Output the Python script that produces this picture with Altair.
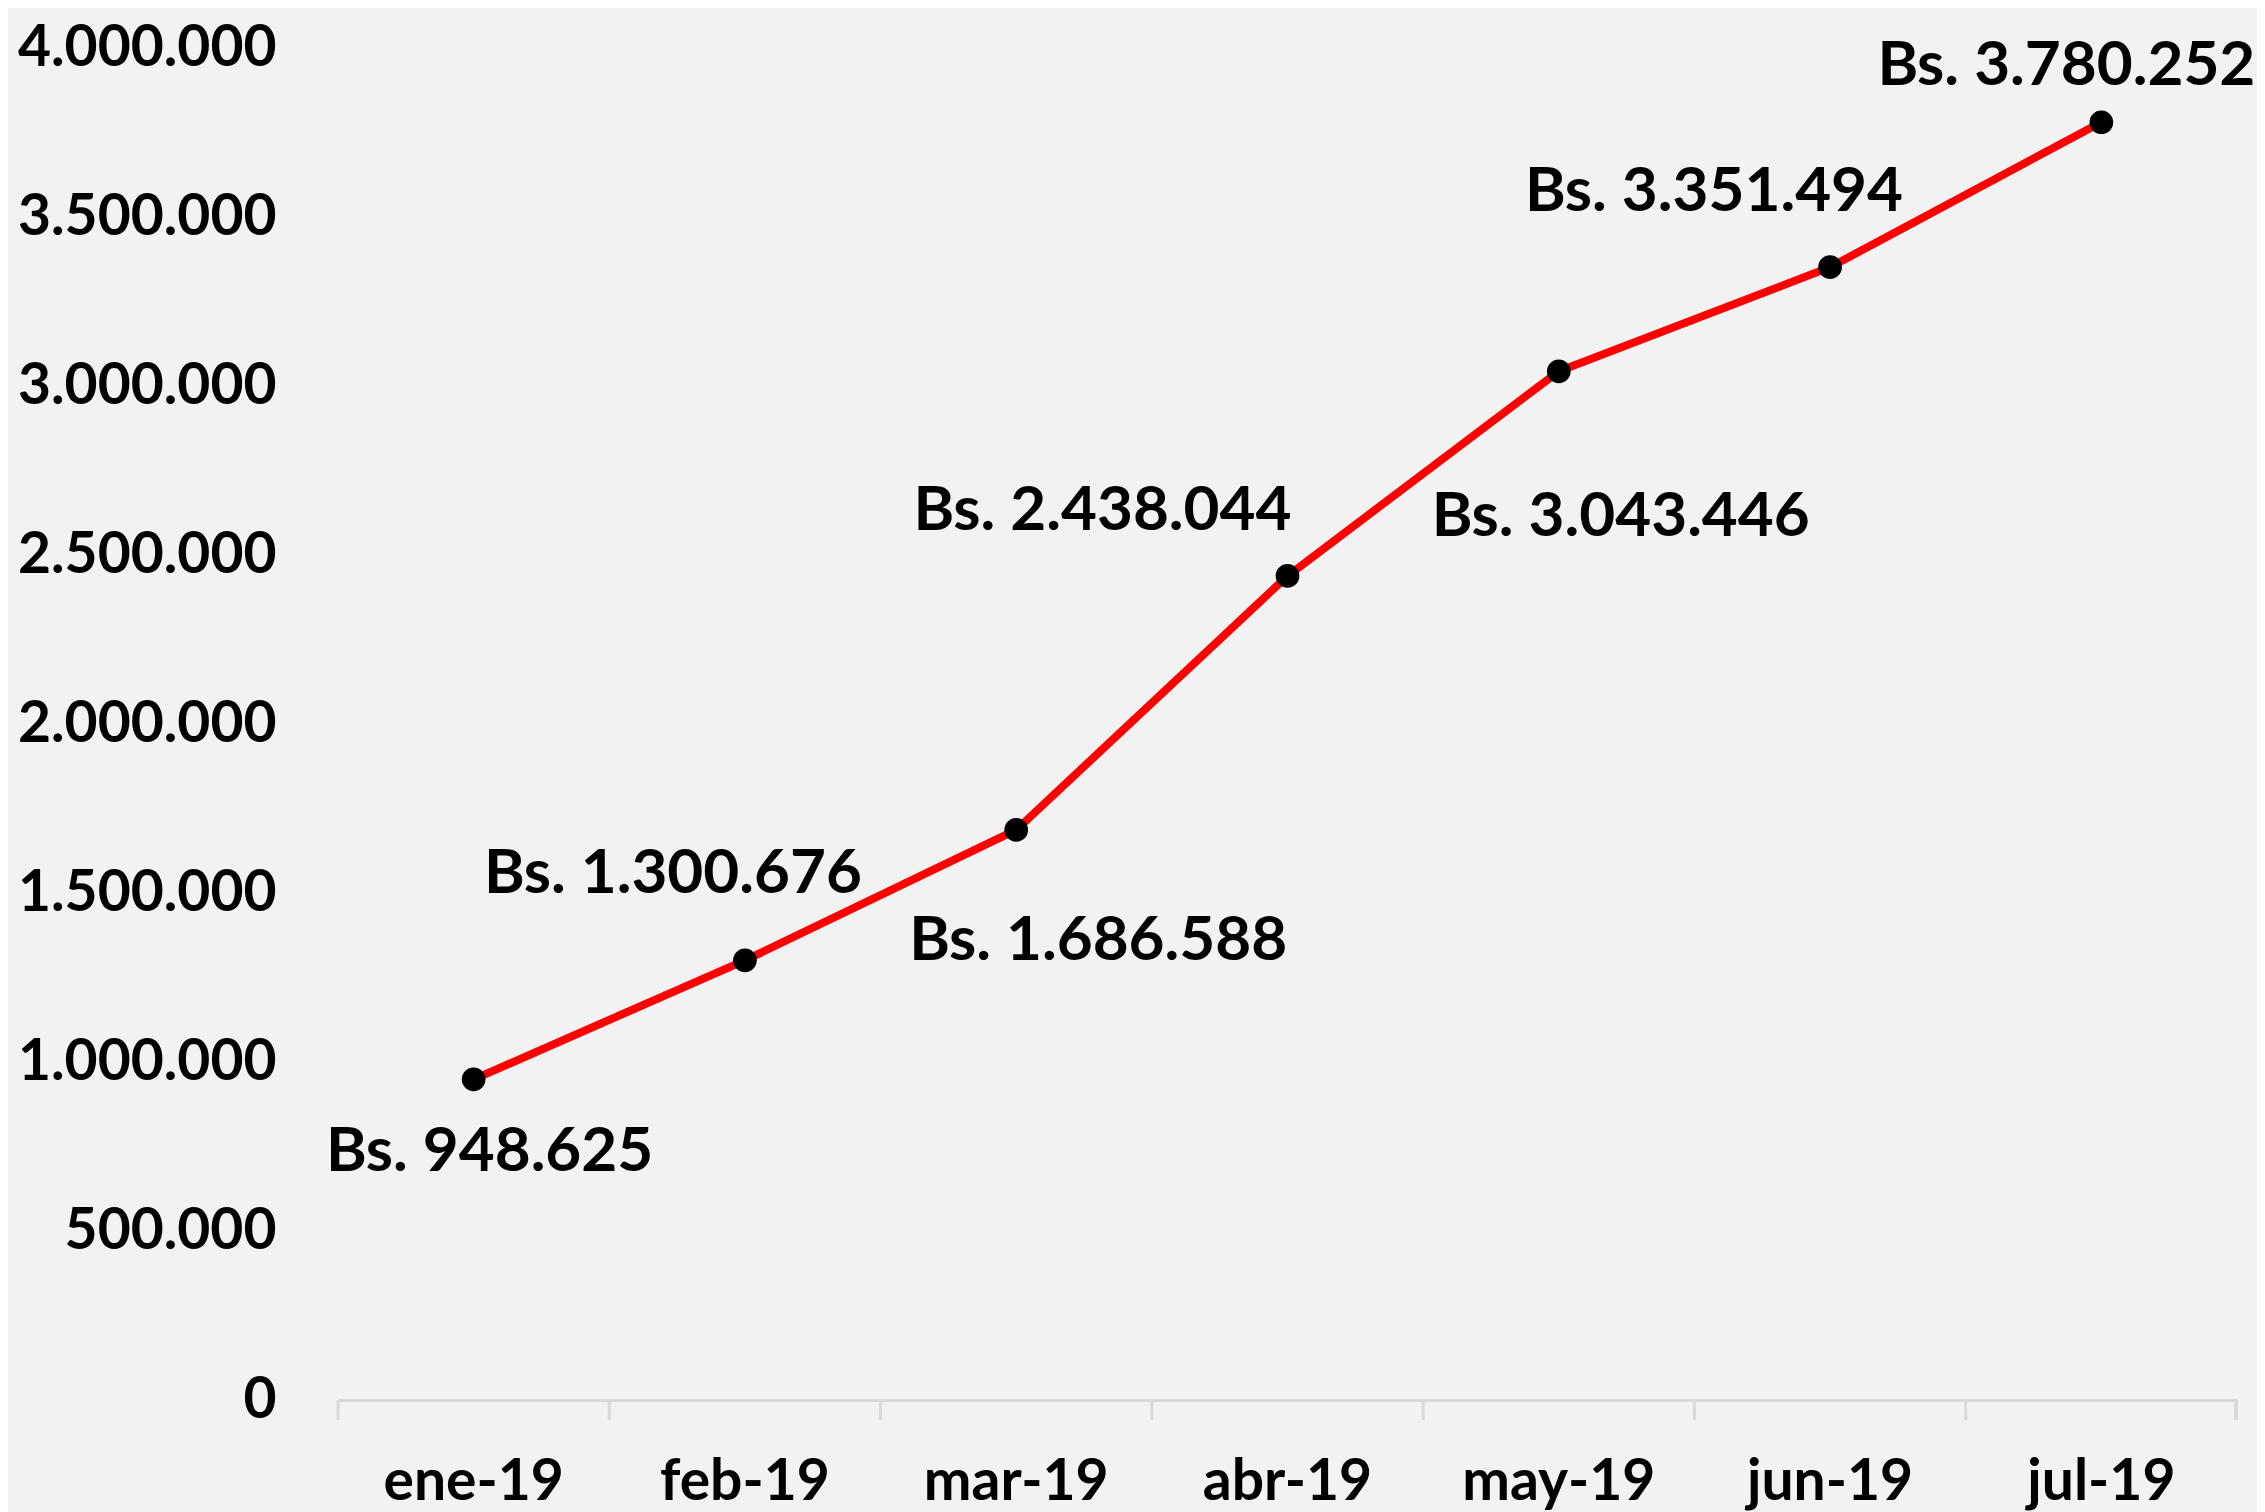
import altair as alt
import pandas as pd

months = ["ene-19", "feb-19", "mar-19", "abr-19", "may-19", "jun-19", "jul-19"]
values = [948625, 1300676, 1686588, 2438044, 3043446, 3351494, 3780252]
y_ticks = [0, 500000, 1000000, 1500000, 2000000, 2500000, 3000000, 3500000, 4000000]

df = pd.DataFrame({"month": months, "value": values})

W, H = 1899, 1352
FONT = "Lato"

x_enc = alt.X("month:N", sort=months, bandPosition=0.5,
              scale=alt.Scale(type="band", paddingInner=0, paddingOuter=0),
              axis=alt.Axis(title=None, labelFont=FONT, labelFontSize=57, labelFontWeight="bold",
                            labelColor="black", labelPadding=54, labelBaseline="top",
                            labelLimit=0, bandPosition=0.5, labelAlign="center",
                            ticks=False, domainColor="#D9D9D9", domainWidth=3, labelAngle=0))
y_enc = alt.Y("value:Q", scale=alt.Scale(domain=[0, 4000000], nice=False),
              axis=alt.Axis(title=None, values=y_ticks, grid=False, domain=False, ticks=False,
                            labelFont=FONT, labelFontSize=57, labelFontWeight="bold",
                            labelColor="black", labelPadding=62, labelLimit=0,
                            labelExpr="replace(format(datum.value, ',.0f'), regexp(',', 'g'), '.')"))

base = alt.Chart(df)

line = base.mark_line(color="#FF0000", strokeWidth=8).encode(x=x_enc, y=y_enc)
pts = base.mark_point(filled=True, color="black", size=560, opacity=1).encode(
    x=alt.X("month:N", sort=months, bandPosition=0.5), y="value:Q")

ticks = base.mark_rule(color="#D9D9D9", strokeWidth=3).encode(
    x=alt.X("month:N", sort=months, bandPosition=0),
    y=alt.value(H), y2=alt.value(H + 20))
end_tick = base.mark_rule(color="#D9D9D9", strokeWidth=3).encode(
    x=alt.value(W - 1), y=alt.value(H), y2=alt.value(H + 20))

offsets = {
    "ene-19": (16, 73),
    "feb-19": (-72, -86),
    "mar-19": (82, 111),
    "abr-19": (-185, -65),
    "may-19": (62, 146),
    "jun-19": (-116, -75),
    "jul-19": (-35, -56),
}

labels = []
for m in months:
    dx, dy = offsets[m]
    labels.append(
        base.transform_filter(alt.datum.month == m)
        .transform_calculate(lbl="'Bs. ' + replace(format(datum.value, ',.0f'), regexp(',', 'g'), '.')")
        .mark_text(font=FONT, fontSize=62, fontWeight="bold", color="black",
                   align="center", baseline="middle", dx=dx, dy=dy)
        .encode(x=alt.X("month:N", sort=months, bandPosition=0.5), y="value:Q", text="lbl:N")
    )

chart = alt.layer(line, ticks, end_tick, pts, *labels).properties(
    width=W, height=H,
    autosize=alt.AutoSizeParams(type="none"),
    padding={"left": 330, "top": 40, "right": 20, "bottom": 120},
    background="#F2F2F2",
).configure_view(stroke=None)

chart.save("out.html", embed_options={"renderer": "svg", "actions": False})
